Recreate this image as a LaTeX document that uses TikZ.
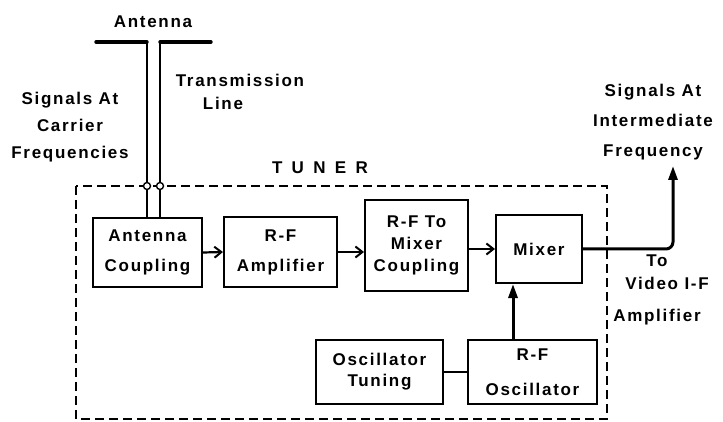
\documentclass[tikz,border=0pt]{standalone}
\usepackage{fontspec}
\setmainfont{Liberation Sans}[LetterSpace=10]
\newfontfamily\spacedfont{Liberation Sans}[LetterSpace=55]
\usetikzlibrary{arrows.meta}
\tikzset{
  blk/.style={draw, line width=2pt, align=center, inner sep=0pt,
    font=\bfseries\fontsize{17}{20}\selectfont},
  lbl/.style={align=center, inner sep=0pt, font=\bfseries\fontsize{17}{20}\selectfont},
  sig/.style={line width=2.2pt, -{Straight Barb[length=7pt,width=11pt,line width=2pt]}},
  thk/.style={line width=3pt, -{Triangle[length=14pt,width=9pt]}},
  ant/.style={line width=3.4pt, line cap=round},
  wire/.style={line width=1.7pt},
  term/.style={circle, draw, fill=white, line width=1.4pt, minimum size=7pt, inner sep=0pt},
  tuner/.style={line width=2.6pt, dash pattern=on 9pt off 5pt}
}
\begin{document}
\begin{tikzpicture}[x=1pt,y=-1pt]
\useasboundingbox[fill=white] (0,0) rectangle (723,422);

% blocks
\node[blk, minimum width=109pt, minimum height=69pt] (ac) at (147.5,252.5) {Antenna\\[10pt]Coupling};
\node[blk, minimum width=113pt, minimum height=70pt] (rfa) at (280.5,252) {R-F\\[10pt]Amplifier};
\node[blk, minimum width=103pt, minimum height=91pt] (rfm) at (416.5,245.5) {R-F To\\[2pt]Mixer\\[2pt]Coupling};
\node[blk, minimum width=86pt, minimum height=68pt] (mix) at (539,249) {Mixer};
\node[blk, minimum width=127pt, minimum height=64pt] (ot) at (379.5,372) {Oscillator\\[1pt]Tuning};
\node[blk, minimum width=129pt, minimum height=64pt] (rfo) at (532.5,372) {R-F\\[15pt]Oscillator};

% tuner outline
\draw[tuner] (76,186) rectangle (607,419);
\node[lbl] (tunerlbl) at (320,168) {\spacedfont TUNER};

% antenna
\coordinate (la) at (96,42);
\coordinate (lt) at (147,42);
\coordinate (ra) at (211,42);
\coordinate (rt) at (160,42);
\draw[ant] (la) -- (lt);
\draw[ant] (ra) -- (rt);
\draw[wire] (lt) -- (lt |- ac.north);
\draw[wire] (rt) -- (rt |- ac.north);
\node[term] (t1) at (147,186) {};
\node[term] (t2) at (160,186) {};

% labels
\node[lbl] (antlbl) at (153,22) {Antenna};
\node[lbl] (carrier) at (70,127) {Signals At\\[7pt]Carrier\\[7pt]Frequencies};
\node[lbl] (trans1) at (240,80) {Transmission};
\node[lbl] (trans2) at (223,103) {Line};
\node[lbl] (iflbl) at (653,122) {Signals At\\[10pt]Intermediate\\[10pt]Frequency};
\node[lbl] (to) at (657,261) {To};
\node[lbl] (video) at (667,283) {Video I-F};
\node[lbl] (amp) at (657,317) {Amplifier};

% signal path
\draw[sig] (ac.east) -- (rfa.west);
\draw[sig] (rfa.east) -- (rfm.west |- rfa.east);
\draw[sig] (rfm.east |- mix.west) -- (mix.west);
\draw[thk] ([xshift=-19.5pt]rfo.north) -- ([xshift=-26pt]mix.south);
\draw[line width=2.2pt] (ot.east) -- (rfo.west);
\coordinate (ifend) at (673,166);
\draw[thk, rounded corners=7pt] (mix.east) -| (ifend);
\end{tikzpicture}
\end{document}
